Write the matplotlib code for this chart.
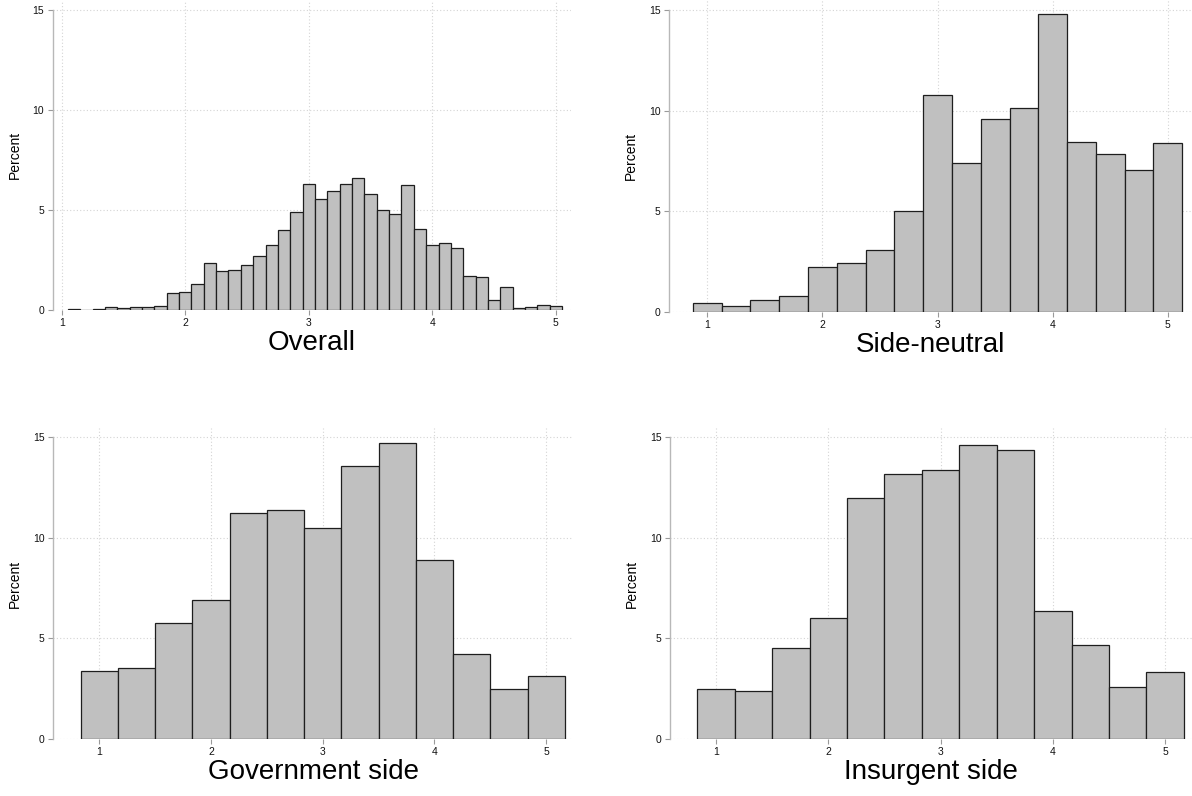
import numpy as np
import matplotlib.pyplot as plt

plt.rcParams["font.family"] = ["Liberation Sans", "DejaVu Sans"]

# bin midpoints and percent of observations per bin
overall_mid = np.round(np.arange(1.1, 5.01, 0.1), 2)
overall_pct = [0.04, 0.0, 0.04, 0.13, 0.08, 0.13, 0.13, 0.22, 0.83, 0.92,
               1.28, 2.33, 1.97, 2.02, 2.25, 2.68, 3.23, 4.0, 4.9, 6.3,
               5.53, 5.97, 6.28, 6.58, 5.82, 4.98, 4.78, 6.23, 4.03, 3.23,
               3.35, 3.08, 1.7, 1.65, 0.52, 1.17, 0.08, 0.13, 0.25, 0.18]

neutral_mid = np.arange(1.0, 5.01, 0.25)
neutral_pct = [0.42, 0.27, 0.58, 0.78, 2.24, 2.42, 3.07, 5.03, 10.78,
               7.41, 9.59, 10.15, 14.81, 8.46, 7.86, 7.05, 8.38]

side_mid = np.linspace(1.0, 5.0, 13)
gov_pct = [3.39, 3.53, 5.79, 6.89, 11.23, 11.39, 10.51, 13.56, 14.70,
           8.89, 4.25, 2.48, 3.13]
ins_pct = [2.48, 2.37, 4.54, 6.01, 12.0, 13.18, 13.36, 14.63, 14.39,
           6.36, 4.65, 2.58, 3.34]

W, H = 1192, 796


def px_rect(x0, x1, y_top, y_bot):
    return [x0 / W, (H - y_bot) / H, (x1 - x0) / W, (y_bot - y_top) / H]


panels = [
    ("Overall", overall_mid, 0.1, overall_pct,
     px_rect(52.7, 570.7, 0, 310), (0.927, 5.12), 15.5),
    ("Side-neutral", neutral_mid, 0.25, neutral_pct,
     px_rect(669.3, 1192, 0, 311.7), (0.67, 5.21), 15.5),
    ("Government side", side_mid, 1 / 3, gov_pct,
     px_rect(53.3, 573, 428.3, 739), (0.588, 5.24), 15.45),
    ("Insurgent side", side_mid, 1 / 3, ins_pct,
     px_rect(670, 1192, 428.3, 739), (0.59, 5.24), 15.45),
]

fig = plt.figure(figsize=(W / 100, H / 100), dpi=100)

for title, mids, width, pct, rect, xlim, ytop in panels:
    ax = fig.add_axes(rect)
    ax.bar(mids, pct, width=width, color="#c0c0c0", edgecolor="#1e1e1e",
           linewidth=0.9, zorder=3)
    ax.set_xlim(*xlim)
    ax.set_ylim(0, ytop)
    ax.set_xticks([1, 2, 3, 4, 5])
    ax.set_yticks([0, 5, 10, 15])
    ax.grid(True, color="#d4d4d4", linestyle=(0, (1, 2)), linewidth=0.8, zorder=0)
    for side in ("top", "right", "bottom"):
        ax.spines[side].set_visible(False)
    ax.spines["left"].set_color("#b8b8b8")
    ax.spines["left"].set_linewidth(1.0)
    ax.spines["left"].set_bounds(0, 15)
    ax.tick_params(axis="both", length=3.6, width=0.8, color="#9a9a9a",
                   labelsize=7.5, pad=2.5, labelcolor="#111111")
    ax.set_ylabel("Percent", fontsize=10, labelpad=8)
    ax.set_xlabel(title, fontsize=20, labelpad=1)

fig.savefig("out.png", dpi=100)
